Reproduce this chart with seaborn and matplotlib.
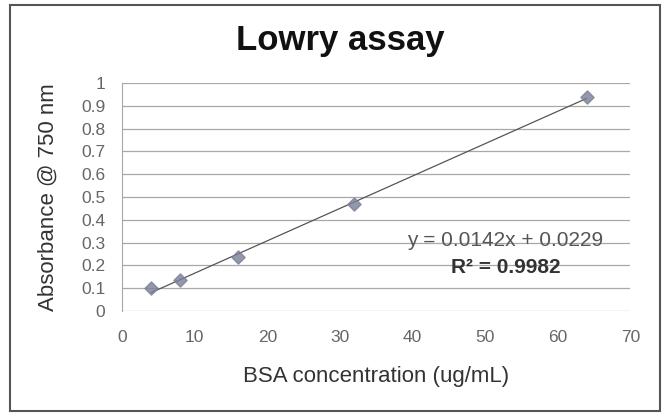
import numpy as np
import pandas as pd
import seaborn as sns
import matplotlib.pyplot as plt
from matplotlib.patches import Rectangle

# BSA standard curve readings
conc = [4, 8, 16, 32, 64]
absorb = [0.10, 0.135, 0.235, 0.47, 0.94]
eq_text = 'y = 0.0142x + 0.0229'
r2_text = 'R² = 0.9982'

df = pd.DataFrame({'conc': conc, 'abs': absorb})

sns.set_style('white')
plt.rcParams['font.family'] = ['Liberation Sans', 'DejaVu Sans']

fig = plt.figure(figsize=(6.67, 4.13), dpi=100)
ax = fig.add_axes([0.183, 0.247, 0.762, 0.552])

sns.regplot(x='conc', y='abs', data=df, ci=None, ax=ax, marker='D',
            scatter_kws={'s': 45, 'color': '#7a7f96', 'edgecolor': '#7a7f96', 'zorder': 3},
            line_kws={'color': '#555555', 'lw': 0.9, 'zorder': 2})

ax.set_xlim(0, 70)
ax.set_ylim(0, 1)
ax.set_xticks(np.arange(0, 71, 10))
ax.set_yticks(np.arange(0, 1.01, 0.1))
ax.set_yticklabels(['0'] + ['%.1f' % v for v in np.arange(0.1, 0.95, 0.1)] + ['1'])
ax.yaxis.grid(True, color='#a8a8a8', lw=0.9)
ax.set_axisbelow(True)
for s in ['top', 'right', 'bottom']:
    ax.spines[s].set_visible(False)
ax.spines['left'].set_color('#a8a8a8')
ax.tick_params(axis='both', length=0, labelsize=12.5, labelcolor='#666666')
ax.tick_params(axis='x', pad=14)
ax.tick_params(axis='y', pad=12)

ax.set_xlabel('BSA concentration (ug/mL)', fontsize=16, color='#333333')
ax.set_ylabel('Absorbance @ 750 nm', fontsize=16, color='#333333')
ax.xaxis.set_label_coords(0.5, -0.24)
ax.yaxis.set_label_coords(-0.125, 0.5)
fig.text(0.51, 0.903, 'Lowry assay', fontsize=25, fontweight='bold',
         ha='center', va='center', color='#111111')

ax.text(52.8, 0.31, eq_text, fontsize=15, color='#555555', ha='center', va='center')
ax.text(52.8, 0.19, r2_text, fontsize=15, color='#333333', ha='center', va='center',
        fontweight='bold')

fig.patches.append(Rectangle((0.015, 0.005), 0.975, 0.982, transform=fig.transFigure,
                             fill=False, edgecolor='#555555', lw=1.5))

plt.savefig('out.png')
